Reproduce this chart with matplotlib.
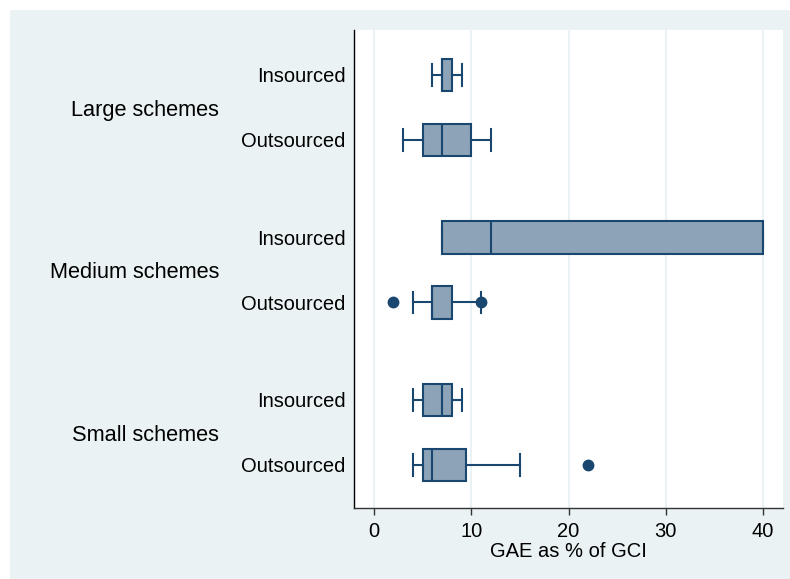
import matplotlib
matplotlib.use("Agg")
import matplotlib.pyplot as plt
from matplotlib.patches import Rectangle

plt.rcParams['font.family'] = ['Liberation Sans', 'DejaVu Sans']

groups = ["Large schemes", "Medium schemes", "Small schemes"]
sources = ["Insourced", "Outsourced"]
# per row (group x source): whisker low, Q1, median, Q3, whisker high, outliers
whislo = [6, 3, 7, 4, 4, 4]
q1 = [7, 5, 7, 6, 5, 5]
med = [7, 7, 12, 6, 7, 6]
q3 = [8, 10, 40, 8, 8, 9.5]
whishi = [9, 12, 40, 11, 9, 15]
fliers = [[], [], [], [2, 11], [], [22]]
xticks = [0, 10, 20, 30, 40]
xlabel = "GAE as % of GCI"

positions = [1, 2, 3.5, 4.5, 6, 7]

W, H = 790, 579
fig = plt.figure(figsize=(W / 100, H / 100), dpi=100, facecolor='white')
bg = Rectangle((10 / W, 0), 1 - 10 / W, 1 - 10 / H,
               transform=fig.transFigure, facecolor='#EAF2F3',
               edgecolor='none', zorder=-10)
fig.add_artist(bg)
ax = fig.add_axes([354 / W, 1 - 508 / H, (783 - 354) / W, (508 - 30) / H])
ax.set_zorder(5)
ax.set_facecolor('white')

navy = '#1A476F'
fill = '#8DA3B7'
stats = []
for i in range(len(positions)):
    stats.append(dict(whislo=whislo[i], q1=q1[i], med=med[i], q3=q3[i],
                      whishi=whishi[i], fliers=fliers[i]))

ax.bxp(stats, positions=positions, vert=False, widths=0.5, patch_artist=True,
       showfliers=True, capwidths=0.33,
       boxprops=dict(facecolor=fill, edgecolor=navy, linewidth=1.5),
       medianprops=dict(color=navy, linewidth=1.5),
       whiskerprops=dict(color=navy, linewidth=1.5),
       capprops=dict(color=navy, linewidth=1.5),
       flierprops=dict(marker='o', markerfacecolor=navy, markeredgecolor=navy,
                       markersize=7.5, linestyle='none'))

ax.set_xlim(-2.06, 42.06)
ax.set_ylim(7.662, 0.308)
ax.set_xticks(xticks)
ax.set_xticklabels([str(t) for t in xticks], fontsize=14.5)
ax.tick_params(axis='x', length=5, width=1, color='#333333', pad=5)
ax.set_yticks(positions)
ax.set_yticklabels(sources * 3, fontsize=14.5)
ax.tick_params(axis='y', length=0, pad=6)
ax.set_xlabel(xlabel, fontsize=14.5, labelpad=1)

ax.grid(axis='x', color='#EAF2F3', linewidth=1.5, zorder=0)
ax.set_axisbelow(True)
for s in ['top', 'right']:
    ax.spines[s].set_visible(False)
ax.spines['left'].set_color('black')
ax.spines['left'].set_linewidth(1)
ax.spines['bottom'].set_color('#333333')
ax.spines['bottom'].set_linewidth(1)

for g, p in zip(groups, [1.5, 4.0, 6.5]):
    ax.text(-0.3147, p + 0.04, g, transform=ax.get_yaxis_transform(), ha='right',
            va='center', fontsize=15.7)

fig.savefig('out.png', dpi=100, facecolor='white')
